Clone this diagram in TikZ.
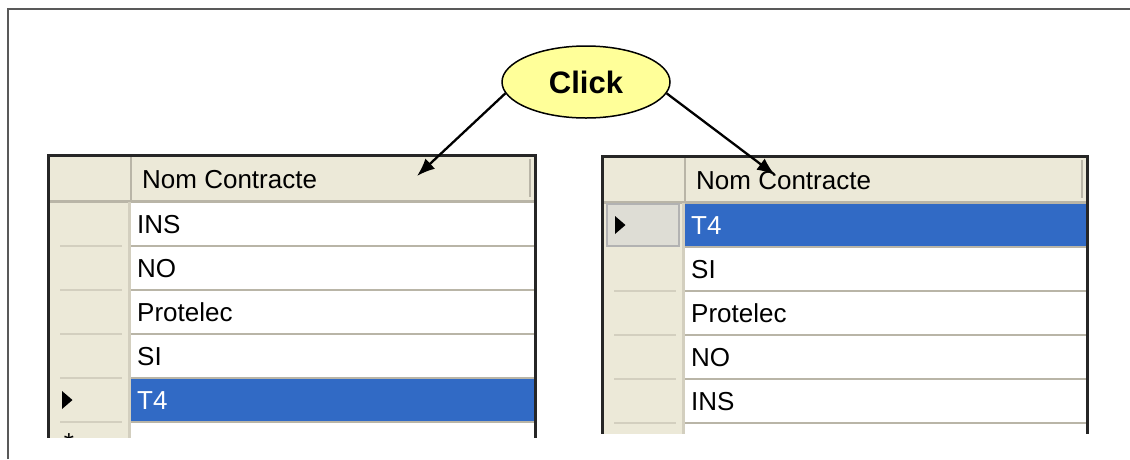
\documentclass[tikz,border=0pt]{standalone}
\usepackage{fontspec}
\setmainfont{Liberation Sans}
\usetikzlibrary{shapes.geometric,arrows.meta}
\definecolor{xpbeige}{HTML}{ECE9D8}
\definecolor{xpline}{HTML}{B9B5A7}
\definecolor{xpshade}{HTML}{D3CFBF}
\definecolor{xpblue}{HTML}{316AC5}
\definecolor{xpcursor}{HTML}{DEDDD5}
\definecolor{notecolor}{HTML}{FFFF99}

\begin{document}
\begin{tikzpicture}[x=1pt,y=-1pt,
    celltext/.style={anchor=west,inner sep=0pt,text height=18.6pt,text depth=0pt,font=\fontsize{26}{30}\selectfont},
    rowline/.style={draw=xpline,line width=1.5pt},
    hdrline/.style={draw=xpshade,line width=2pt},
    gridframe/.style={draw=black!85,line width=3pt},
    callout/.style={-{Latex[length=18pt,width=14pt]},line width=2.3pt}]

    \useasboundingbox (0,0) rectangle (1130,459);
    \draw[black!65,line width=1.6pt] (8,459) -- (8,9) -- (1130,9);

    % left grid
    \begin{scope}[shift={(48,155)}]
        \clip (-3,-3) rectangle (492,282);
        \fill[xpbeige] (0,0) rectangle (487,300);
        \fill[white] (83,47) rectangle (487,300);
        \fill[xpblue] (83,223) rectangle (487,267);
        \draw[xpline,line width=3pt] (0,46) -- (487,46);
        \draw[xpline,line width=1.5pt] (83,2) -- (83,45);
        \draw[xpline,line width=1.5pt] (482,4) -- (482,42);
        \draw[xpshade,line width=3pt] (81,47) -- (81,300);
        \node[celltext] (lhead) at (94,24) {Nom Contracte};
        \foreach \name/\col [count=\i from 0] in {INS/black,NO/black,Protelec/black,SI/black,T4/white} {
            \node[celltext,text=\col] (lrow\i) at (89,{69+44*\i}) {\name};
            \draw[rowline] (83,{91+44*\i}) -- (487,{91+44*\i});
            \draw[hdrline] (12,{91+44*\i}) -- (74,{91+44*\i});
        }
        \fill (14,236) -- (14,254) -- (24.5,245) -- cycle;
        \node[anchor=base,inner sep=0pt,font=\fontsize{26}{30}\selectfont] (lnew) at (21,296) {*};
        \draw[gridframe] (0,300) -- (0,0) -- (487,0) -- (487,300);
    \end{scope}

    % right grid
    \begin{scope}[shift={(602,156)}]
        \clip (-3,-3) rectangle (490,277);
        \fill[xpbeige] (0,0) rectangle (485,300);
        \fill[white] (83,47) rectangle (485,300);
        \fill[xpblue] (83,47) rectangle (485,91);
        \draw[xpline,line width=3pt] (0,46) -- (485,46);
        \draw[xpline,line width=1.5pt] (83,2) -- (83,45);
        \draw[xpline,line width=1.5pt] (480,4) -- (480,42);
        \draw[xpshade,line width=3pt] (81,47) -- (81,300);
        \filldraw[fill=xpcursor,draw=black!30,line width=1.5pt] (5,48) rectangle (77,90);
        \node[celltext] (rhead) at (94,24) {Nom Contracte};
        \foreach \name/\col [count=\i from 0] in {T4/white,SI/black,Protelec/black,NO/black,INS/black} {
            \node[celltext,text=\col] (rrow\i) at (89,{69+44*\i}) {\name};
            \draw[rowline] (83,{91+44*\i}) -- (485,{91+44*\i});
        }
        \foreach \i in {1,...,4}
            \draw[hdrline] (12,{91+44*\i}) -- (74,{91+44*\i});
        \fill (13,60) -- (13,78) -- (23.5,69) -- cycle;
        \draw[gridframe] (0,300) -- (0,0) -- (485,0) -- (485,300);
    \end{scope}

    % note
    \node[ellipse,draw,fill=notecolor,line width=1.5pt,minimum width=168pt,minimum height=72pt,inner sep=0pt,
        font=\fontsize{31}{36}\selectfont\bfseries] (click) at (586,82) {Click};
    \coordinate (ltip) at (417,176);
    \coordinate (rtip) at (775,175);
    \draw[callout] (click.188) -- (ltip);
    \draw[callout] (click.-8) -- (rtip);
\end{tikzpicture}
\end{document}
